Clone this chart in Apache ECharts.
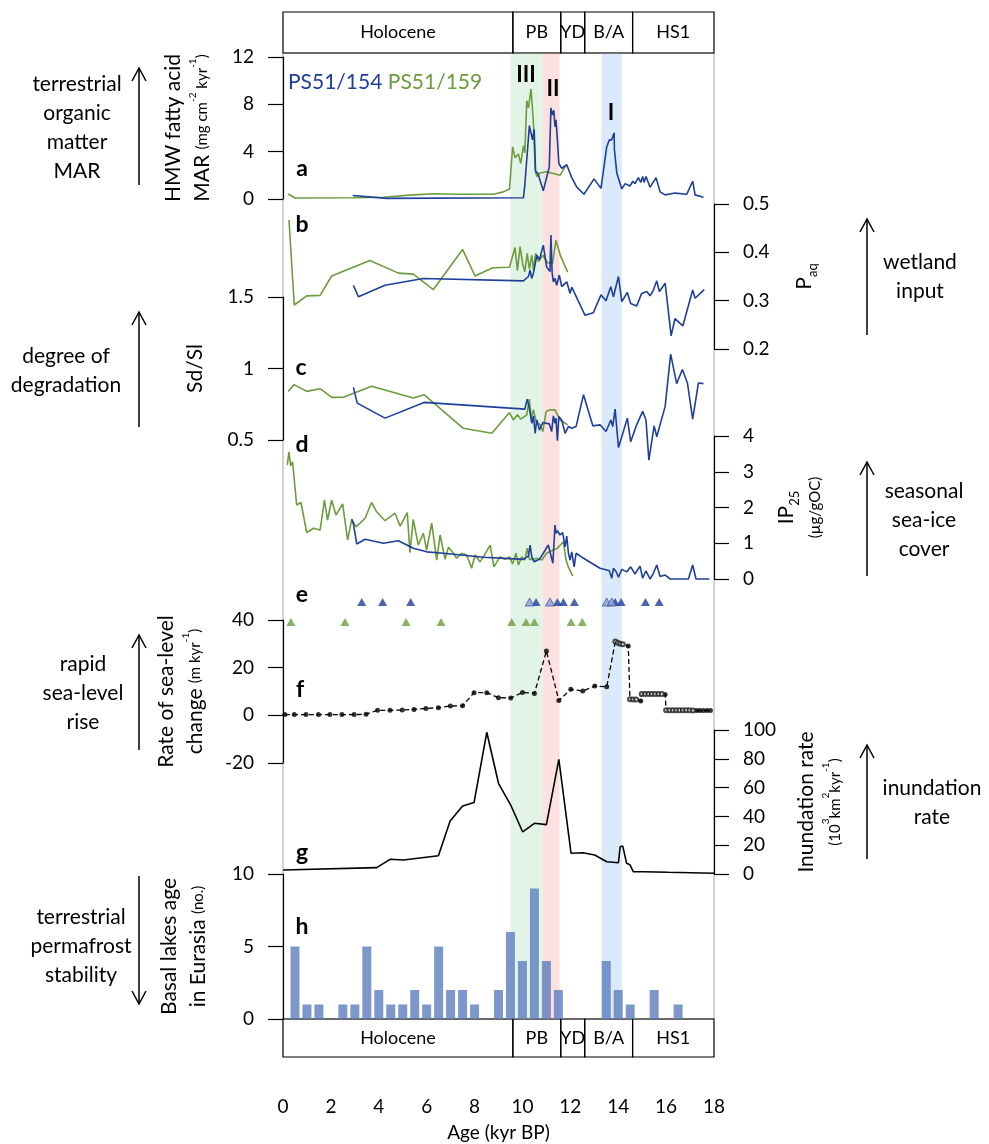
<!DOCTYPE html>
<html><head><meta charset="utf-8">
<script src="https://cdn.jsdelivr.net/npm/echarts@6/dist/echarts.min.js"></script>
<style>html,body{margin:0;padding:0;background:#fff}#c{width:989px;height:1144px}</style>
</head><body><div id="c"></div>
<script>
// ---------- data ----------
const epochNames = ['Holocene', 'PB', 'YD', 'B/A', 'HS1'];
const epochBounds = [0, 9.6, 11.6, 12.6, 14.6, 18];
const bandRanges = [[9.5, 10.85], [10.85, 11.55], [13.3, 14.15]];
const romanLabels = ['III', 'II', 'I'];
const panelLetters = ['a', 'b', 'c', 'd', 'e', 'f', 'g', 'h'];
const ageTicks = [0, 2, 4, 6, 8, 10, 12, 14, 16, 18];

// a: HMW fatty acid MAR
const aGreen = [[0.22,0.42],[0.5,0.08],[2.94,0.1],[4.19,0.15],[5.44,0.35],[6.28,0.45],[7.25,0.4],[8.79,0.4],[9.2,0.6],[9.46,0.85],[9.59,4.4],[9.69,3.5],[9.83,3.8],[9.93,3.0],[10.04,4.5],[10.1,3.9],[10.18,8.3],[10.25,7.7],[10.36,9.3],[10.46,6.4],[10.53,2.5],[10.6,1.9],[10.74,2.2],[11.01,2.3],[11.22,2.2],[11.57,2.0],[11.71,2.5],[11.85,2.9]];
const aBlue = [[2.91,0.3],[4.33,0.05],[10.04,0.1],[10.1,1.2],[10.29,6.2],[10.42,5.0],[10.49,5.9],[10.55,2.3],[10.64,2.2],[10.87,0.7],[11.12,2.7],[11.19,7.7],[11.25,7.1],[11.31,7.5],[11.36,6.1],[11.4,6.7],[11.46,5.0],[11.52,3.0],[11.64,2.6],[11.85,2.9],[12.06,1.8],[12.27,1.0],[12.57,0.4],[12.99,1.7],[13.28,0.9],[13.52,4.4],[13.63,5.0],[13.73,5.0],[13.77,5.1],[13.83,5.6],[13.84,4.2],[13.94,2.2],[14.15,0.85],[14.29,1.3],[14.49,1.1],[14.61,1.5],[14.7,1.3],[14.84,1.8],[14.94,1.4],[15.02,1.9],[15.08,1.4],[15.16,1.9],[15.33,1.0],[15.58,1.8],[15.75,0.6],[15.96,0.35],[16.37,0.5],[16.86,0.4],[17.11,1.5],[17.21,0.35],[17.56,0.15]];

// b: Paq
const bGreen = [[0.25,0.467],[0.47,0.291],[0.99,0.31],[1.55,0.311],[2.03,0.351],[3.63,0.383],[4.82,0.357],[5.44,0.355],[6.28,0.323],[7.5,0.406],[8.02,0.351],[8.76,0.368],[9.46,0.369],[9.69,0.41],[9.79,0.362],[9.9,0.412],[10.01,0.376],[10.1,0.36],[10.2,0.398],[10.29,0.365],[10.39,0.394],[10.46,0.363],[10.55,0.398],[10.67,0.381],[10.85,0.394],[11.04,0.379],[11.25,0.376],[11.4,0.425],[11.6,0.391],[11.89,0.359]];
const bBlue = [[2.94,0.332],[3.15,0.308],[4.26,0.332],[5.86,0.346],[10.04,0.341],[10.25,0.35],[10.32,0.363],[10.39,0.346],[10.46,0.357],[10.6,0.394],[10.71,0.385],[10.87,0.415],[11.01,0.37],[11.15,0.36],[11.19,0.436],[11.24,0.358],[11.29,0.339],[11.36,0.346],[11.43,0.332],[11.54,0.353],[11.64,0.329],[11.85,0.339],[11.99,0.315],[12.06,0.328],[12.61,0.27],[12.96,0.275],[13.28,0.312],[13.49,0.3],[13.69,0.329],[13.8,0.308],[14.01,0.35],[14.15,0.298],[14.38,0.317],[14.52,0.294],[14.77,0.289],[14.98,0.315],[15.19,0.319],[15.33,0.31],[15.47,0.322],[15.61,0.341],[15.72,0.319],[15.96,0.336],[16.21,0.227],[16.37,0.263],[16.7,0.248],[17.11,0.322],[17.21,0.305],[17.59,0.323]];

// c: Sd/Sl
const cGreen = [[0.22,0.84],[0.46,0.887],[0.99,0.84],[1.55,0.859],[2.03,0.798],[2.55,0.8],[3.7,0.876],[5.44,0.793],[5.89,0.817],[7.53,0.582],[8.72,0.547],[9.46,0.692],[9.62,0.64],[9.79,0.676],[9.93,0.646],[10.18,0.676],[10.29,0.786],[10.36,0.653],[10.46,0.711],[10.57,0.629],[10.74,0.606],[10.85,0.559],[10.99,0.7],[11.15,0.711],[11.36,0.711],[11.57,0.64],[11.89,0.606]];
const cBlue = [[2.94,0.868],[3.1,0.758],[4.26,0.653],[5.89,0.763],[10.1,0.716],[10.2,0.786],[10.29,0.723],[10.39,0.617],[10.46,0.669],[10.53,0.547],[10.6,0.641],[10.71,0.57],[10.85,0.622],[11.12,0.613],[11.22,0.559],[11.29,0.669],[11.36,0.617],[11.4,0.653],[11.46,0.495],[11.52,0.664],[11.64,0.64],[11.78,0.547],[11.92,0.594],[12.06,0.582],[12.24,0.594],[12.55,0.817],[12.94,0.599],[13.24,0.606],[13.49,0.559],[13.69,0.64],[13.77,0.594],[13.87,0.716],[14.01,0.448],[14.15,0.523],[14.38,0.653],[14.52,0.488],[14.77,0.606],[15.02,0.7],[15.16,0.64],[15.28,0.359],[15.5,0.599],[15.61,0.523],[15.96,0.735],[16.19,1.1],[16.44,0.894],[16.68,0.993],[16.89,0.899],[17.11,0.646],[17.35,0.899],[17.56,0.894]];

// d: IP25
const dGreen = [[0.18,3.19],[0.25,3.56],[0.32,3.16],[0.4,3.28],[0.57,2.07],[0.75,2.14],[0.99,1.3],[1.27,1.42],[1.55,1.37],[1.73,2.21],[1.86,1.65],[2.03,2.21],[2.21,1.79],[2.49,2.1],[2.7,1.09],[2.87,1.67],[3.05,1.46],[3.43,1.7],[3.7,2.14],[3.91,1.88],[4.26,1.63],[4.68,1.84],[4.89,1.48],[5.19,1.86],[5.3,0.74],[5.44,1.67],[5.65,0.95],[5.86,1.28],[6.0,0.81],[6.21,1.56],[6.42,0.53],[6.56,1.23],[6.77,0.55],[6.91,0.89],[7.12,0.72],[7.25,0.58],[7.46,0.72],[7.67,0.67],[7.88,0.3],[8.02,0.67],[8.23,0.48],[8.44,0.7],[8.65,0.95],[8.81,0.34],[9.06,0.62],[9.27,0.55],[9.46,0.62],[9.59,0.42],[9.73,0.72],[9.83,0.39],[9.97,0.62],[10.1,0.53],[10.2,0.86],[10.29,0.55],[10.46,0.55],[10.6,0.58],[10.81,0.53],[11.01,0.72],[11.22,0.79],[11.46,0.86],[11.71,1.04],[11.82,0.53],[11.92,0.33],[12.1,0.08]];
const dBlue = [[2.87,1.67],[2.94,1.54],[3.08,0.98],[3.43,1.11],[4.19,1.0],[4.82,1.07],[5.44,0.86],[6.0,0.76],[6.7,0.72],[8.37,0.61],[10.04,0.55],[10.25,0.64],[10.32,0.95],[10.39,0.62],[10.49,0.48],[10.71,0.55],[10.87,0.72],[11.08,0.95],[11.27,0.44],[11.36,1.51],[11.4,1.28],[11.46,1.35],[11.57,1.23],[11.68,1.3],[11.78,0.9],[11.85,1.2],[11.92,0.72],[11.99,0.53],[12.06,0.76],[12.16,0.34],[12.24,0.72],[12.48,0.61],[13.24,0.3],[13.63,0.23],[13.73,0.02],[13.8,0.3],[13.91,0.21],[14.01,0.05],[14.15,0.27],[14.36,0.2],[14.52,0.34],[14.7,0.14],[14.91,0.36],[15.02,0.02],[15.16,0.23],[15.33,0.0],[15.47,0.16],[15.61,0.39],[15.75,0.07],[15.96,0.11],[16.17,0.0],[16.93,0.0],[17.11,0.39],[17.25,0.0],[17.81,0.0]];

// e: dated horizons (triangles)
const eBlueAges = [3.29, 4.16, 5.33, 10.57, 11.46, 11.71, 12.17, 13.87, 14.12, 15.14, 15.71];
const eBlueHatchedAges = [10.3, 11.15, 13.52, 13.73];
const eGreenAges = [0.33, 2.59, 5.14, 6.6, 9.55, 10.15, 10.5, 12.03, 12.5];

// f: rate of sea-level change
const fAge  = [0.08,0.47,0.96,1.48,1.96,2.46,2.97,3.47,3.95,4.47,4.98,5.47,5.97,6.49,6.99,7.5,7.98,8.51,9.0,9.51,10.0,10.5,11.0,11.52,12.02,12.52,13.02,13.52,13.88,13.98,14.08,14.19,14.42,14.49,14.62,14.75,14.94,14.98,15.12,15.26,15.4,15.54,15.68,15.82,15.96,16.0,16.14,16.28,16.42,16.56,16.7,16.84,16.98,17.12,17.26,17.4,17.55,17.7,17.85];
const fRate = [0.3,0.3,0.3,0.3,0.3,0.3,0.3,0.5,2.1,2.1,2.2,2.5,2.9,3.2,3.9,4.0,9.5,9.5,7.4,7.3,9.6,9.2,27.0,6.2,10.9,10.2,12.3,12.0,31.0,30.5,30.0,29.8,29.1,6.7,6.6,6.6,6.0,8.9,8.9,8.9,8.9,8.9,8.9,8.9,8.7,2.1,2.1,2.1,2.1,2.1,2.1,2.1,2.1,2.0,2.0,2.0,2.0,2.0,2.0];
const fOpen = [0,0,0,0,0,0,0,0,0,0,0,0,0,0,0,0,0,0,0,0,0,0,0,0,0,0,0,0,1,1,1,1,0,1,1,1,0,1,1,1,1,1,1,1,0,1,1,1,1,1,1,1,1,1,0,0,0,0,0];

// g: inundation rate
const gInund = [[0,2.8],[3.91,4.4],[4.47,10.2],[5.03,9.7],[6.49,12.7],[6.98,36.8],[7.5,47.2],[7.98,49.7],[8.51,98.4],[9.0,63],[9.51,47.9],[10.01,29.2],[10.5,35.2],[11.0,34.3],[11.52,79.6],[12.03,14.4],[12.52,14.8],[13.02,13.2],[13.52,8.5],[14.01,7.8],[14.08,18.9],[14.19,19.4],[14.35,7.4],[14.49,6.4],[14.63,1.6],[15.05,1.6],[16.1,1.2],[16.17,0.5],[18.0,0.5]];

// h: basal lake ages
const hAge   = [0.5,1,1.5,2.5,3,3.5,4,4.5,5,5.5,6,6.5,7,7.5,8,9,9.5,10,10.5,11,11.5,13.5,14,14.5,15.5,16.5];
const hCount = [5,1,1,1,1,5,2,1,1,2,1,5,2,2,1,2,6,4,9,4,2,4,2,1,2,1];

// ---------- styling ----------
const FONT = 'Lato, "Open Sans", sans-serif';
const BLUE = '#1f3f99';
const GREEN = '#6d9c3e';
const BAND_COLORS = ['#e2f4e6', '#fde0e0', '#dbeafb'];
const L = 283, W = 431;

function grid(top, height, extra) {
  return Object.assign({ left: L, width: W, top: top, height: height, outerBoundsMode: 'none', containLabel: false }, extra || {});
}
const grids = [
  grid(53, 966, { show: true, borderColor: '#a6a6a6', borderWidth: 1 }), // 0 bg
  grid(12, 41),    // 1 epoch top
  grid(1019, 38),  // 2 epoch bottom
  grid(57, 142),   // 3 a
  grid(204, 145),  // 4 b
  grid(297, 143),  // 5 c
  grid(436, 143),  // 6 d
  grid(602, 20),   // 7 e
  grid(620, 143),  // 8 f
  grid(730, 144),  // 9 g
  grid(874, 145)   // 10 h
];

const xAxes = grids.map((g, i) => {
  const ax = { gridIndex: i, type: 'value', min: 0, max: 18, interval: 2, show: false, axisLine: { onZero: false } };
  if (i === 2) {
    Object.assign(ax, {
      show: true, position: 'bottom',
      axisLine: { show: false, onZero: false }, axisTick: { show: false }, splitLine: { show: false },
      axisLabel: { show: true, margin: 40, fontSize: 19, color: '#000', fontFamily: FONT,
        customValues: ageTicks },
      name: 'Age (kyr BP)', nameLocation: 'middle', nameGap: 66,
      nameTextStyle: { fontSize: 19, color: '#000', fontFamily: FONT }
    });
  }
  return ax;
});

const richCommon = {
  u: { fontSize: 15, fontFamily: FONT, color: '#000' },
  s: { fontSize: 10, fontFamily: FONT, color: '#000', verticalAlign: 'top', lineHeight: 22 },
  sub: { fontSize: 13, fontFamily: FONT, color: '#000', verticalAlign: 'bottom', lineHeight: 14 }
};
function yAx(gi, min, max, interval, pos, name, gap, nameFont) {
  return {
    gridIndex: gi, type: 'value', min: min, max: max, interval: interval, position: pos,
    axisLine: { show: true, onZero: false, lineStyle: { color: '#000', width: 1.2 } },
    axisTick: { show: true, inside: false, length: 15, lineStyle: { color: '#000', width: 1.2 } },
    axisLabel: { margin: 29, fontSize: 19, color: '#000', fontFamily: FONT },
    splitLine: { show: false },
    name: name, nameLocation: 'middle', nameRotate: 90, nameGap: gap,
    nameTextStyle: { fontSize: nameFont || 21, color: '#000', fontFamily: FONT, lineHeight: 29, rich: richCommon }
  };
}
const hidden = (gi) => ({ gridIndex: gi, type: 'value', min: 0, max: 1, show: false, axisLine: { onZero: false } });

const yAxes = [
  hidden(0), hidden(1), hidden(2),
  yAx(3, 0, 12, 4, 'left', 'HMW fatty acid\nMAR {u|(mg cm}{s|-2}{u| kyr}{s|-1}{u|)}', 66),
  yAx(4, 0.2, 0.5, 0.1, 'right', 'P{sub|aq}', 76),
  yAx(5, 0.5, 1.5, 0.5, 'left', 'Sd/Sl', 73),
  yAx(6, 0, 4, 1, 'right', 'IP{sub|25}\n{u|(µg/gOC)}', 58),
  hidden(7),
  yAx(8, -20, 40, 20, 'left', 'Rate of sea-level\nchange {u|(m kyr}{s|-1}{u|)}', 73),
  yAx(9, 0, 100, 20, 'right', 'Inundation rate\n{u|(10}{s|3}{u|km}{s|2}{u|kyr}{s|-1}{u|)}', 78),
  yAx(10, 0, 10, 5, 'left', 'Basal lakes age\nin Eurasia {u|(no.)}', 70)
];

function lineS(gi, data, color, z) {
  return { type: 'line', xAxisIndex: gi, yAxisIndex: gi, data: data, showSymbol: false, symbol: 'none',
    clip: false, lineStyle: { color: color, width: 1.6 }, z: z || 3, silent: true };
}

const series = [];
// bands
series.push({
  type: 'line', xAxisIndex: 0, yAxisIndex: 0, data: [[0, 0]], symbol: 'none', lineStyle: { opacity: 0 }, z: 0, silent: true,
  markArea: { silent: true, z: 0,
    data: bandRanges.map((r, i) => [{ xAxis: r[0], itemStyle: { color: BAND_COLORS[i], opacity: 1 } }, { xAxis: r[1] }]) }
});
// epoch boxes
[1, 2].forEach(gi => {
  series.push({
    type: 'line', xAxisIndex: gi, yAxisIndex: gi, data: [[0, 0]], symbol: 'none', lineStyle: { opacity: 0 }, z: 5, silent: true,
    markArea: { silent: true,
      itemStyle: { color: 'rgba(255,255,255,0)', borderColor: '#000', borderWidth: 1.2 },
      label: { show: true, position: 'inside', color: '#000', fontSize: 18, fontFamily: FONT },
      data: epochNames.map((n, i) => [{ name: n, xAxis: epochBounds[i], yAxis: 0 }, { xAxis: epochBounds[i + 1], yAxis: 1 }]) }
  });
});
// a-d
series.push(lineS(3, aGreen, GREEN, 3), lineS(3, aBlue, BLUE, 4));
series.push(lineS(4, bGreen, GREEN, 3), lineS(4, bBlue, BLUE, 4));
series.push(lineS(5, cGreen, GREEN, 3), lineS(5, cBlue, BLUE, 4));
series.push(lineS(6, dGreen, GREEN, 3), lineS(6, dBlue, BLUE, 4));
// e
series.push({ type: 'scatter', xAxisIndex: 7, yAxisIndex: 7, data: eGreenAges.map(a => [a, 0]),
  symbol: 'triangle', symbolSize: [9, 8], itemStyle: { color: GREEN }, z: 4, silent: true });
series.push({ type: 'scatter', xAxisIndex: 7, yAxisIndex: 7, data: eBlueAges.map(a => [a, 1]),
  symbol: 'triangle', symbolSize: [9, 8], itemStyle: { color: BLUE }, z: 4, silent: true });
series.push({ type: 'scatter', xAxisIndex: 7, yAxisIndex: 7, data: eBlueHatchedAges.map(a => [a, 1]),
  symbol: 'triangle', symbolSize: [9, 8], itemStyle: { color: '#8da0d4', borderColor: BLUE, borderWidth: 0.8 }, z: 4, silent: true });
// f
const fPts = fAge.map((a, i) => [a, fRate[i]]);
series.push({ type: 'line', xAxisIndex: 8, yAxisIndex: 8, data: fPts, symbol: 'none', clip: false,
  lineStyle: { color: '#000', width: 1.3, type: [5, 3] }, z: 3, silent: true });
series.push({ type: 'scatter', xAxisIndex: 8, yAxisIndex: 8, data: fPts.filter((p, i) => !fOpen[i]),
  symbol: 'circle', symbolSize: 5, itemStyle: { color: '#000' }, z: 4, silent: true });
series.push({ type: 'scatter', xAxisIndex: 8, yAxisIndex: 8, data: fPts.filter((p, i) => fOpen[i]),
  symbol: 'emptyCircle', symbolSize: 4, itemStyle: { color: '#222', borderWidth: 1 }, z: 4, silent: true });
// g
series.push(lineS(9, gInund, '#000', 3));
// h
series.push({ type: 'bar', xAxisIndex: 10, yAxisIndex: 10, data: hAge.map((a, i) => [a, hCount[i]]),
  barWidth: 9, itemStyle: { color: 'rgba(93,125,190,0.8)' }, z: 2, silent: true });

// ---------- annotations ----------
const txt = (text, x, y, extra) => ({ type: 'text', silent: true, z: 10,
  style: Object.assign({ text: text, x: x, y: y, fill: '#000', font: '21px ' + FONT, align: 'center', verticalAlign: 'middle', lineHeight: 29 }, extra || {}) });
function arrow(x, y1, y2, down) {
  const tip = down ? y2 : y1;
  const d = down ? -13 : 13;
  return { type: 'group', silent: true, children: [
    { type: 'line', shape: { x1: x, y1: y1, x2: x, y2: y2 }, style: { stroke: '#000', lineWidth: 1.5 } },
    { type: 'polyline', shape: { points: [[x - 7, tip + d], [x, tip], [x + 7, tip + d]] }, style: { stroke: '#000', lineWidth: 1.5, fill: null } }
  ] };
}
const letterPos = [[302,169],[302,225],[301,368],[302,445],[302,595],[300,690],[302,853],[302,927]];
const romanPos = [[526,75],[553,89],[611,113]];

const graphic = [];
panelLetters.forEach((l, i) => graphic.push(txt(l, letterPos[i][0], letterPos[i][1], { font: 'bold 23px ' + FONT })));
romanLabels.forEach((r, i) => graphic.push(txt(r, romanPos[i][0], romanPos[i][1], { font: 'bold 22px ' + FONT })));
graphic.push(txt('{b|PS51/154} {g|PS51/159}', 288, 82, { align: 'left',
  rich: { b: { fill: BLUE, font: '21px ' + FONT }, g: { fill: GREEN, font: '21px ' + FONT } } }));
graphic.push(txt('terrestrial\norganic\nmatter\nMAR', 77, 128));
graphic.push(arrow(139, 68, 185, false));
graphic.push(txt('wetland\ninput', 920, 277));
graphic.push(arrow(867, 219, 335, false));
graphic.push(txt('degree of\ndegradation', 66, 371));
graphic.push(arrow(139, 312, 427, false));
graphic.push(txt('seasonal\nsea-ice\ncover', 924, 520));
graphic.push(arrow(867, 462, 576, false));
graphic.push(txt('rapid\nsea-level\nrise', 83, 693));
graphic.push(arrow(139, 635, 750, false));
graphic.push(txt('inundation\nrate', 932, 803));
graphic.push(arrow(867, 745, 859, false));
graphic.push(txt('terrestrial\npermafrost\nstability', 81, 946));
graphic.push(arrow(139, 876, 1004, true));

const chart = echarts.init(document.getElementById('c'), null, { renderer: 'canvas' });
chart.setOption({
  animation: false,
  backgroundColor: '#fff',
  textStyle: { fontFamily: FONT },
  grid: grids, xAxis: xAxes, yAxis: yAxes, series: series, graphic: graphic
});
</script></body></html>
